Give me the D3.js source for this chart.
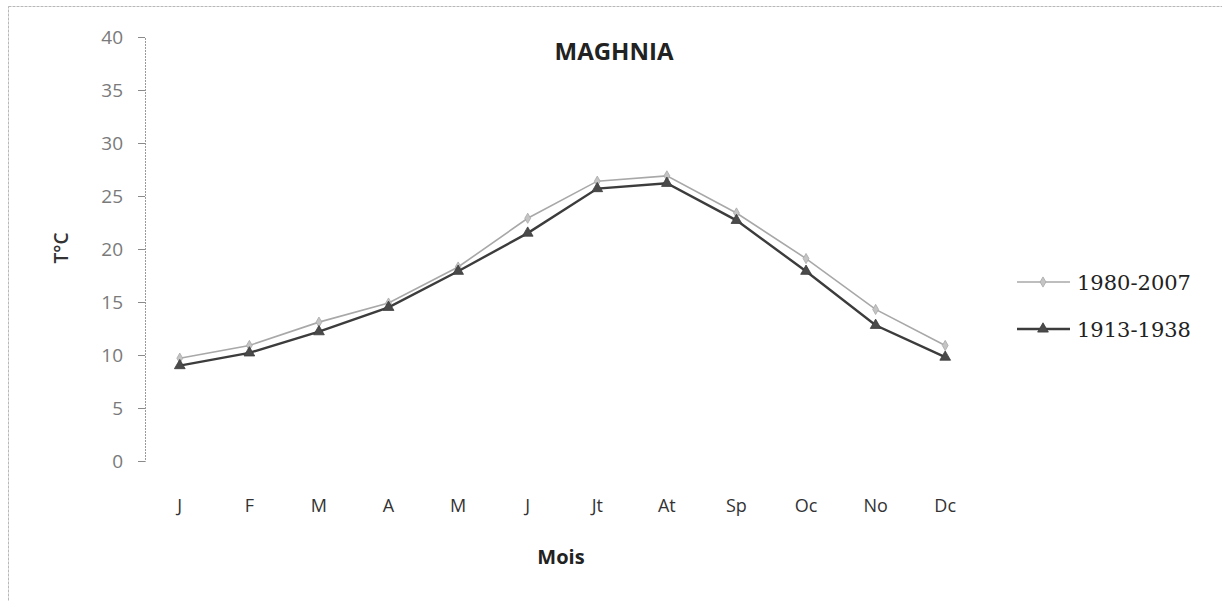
<!DOCTYPE html>
<html>
<head>
<meta charset="utf-8">
<script src="https://cdn.jsdelivr.net/npm/d3@7"></script>
<style>
  body { margin: 0; background: #fff; }
  .canvas { width: 1222px; height: 601px; }
</style>
</head>
<body>
<div class="canvas"></div>
<script>
const months = ['J', 'F', 'M', 'A', 'M', 'J', 'Jt', 'At', 'Sp', 'Oc', 'No', 'Dc'];
const recent = [9.7, 10.9, 13.1, 14.9, 18.3, 22.9, 26.4, 26.9, 23.4, 19.1, 14.3, 10.9];
const old = [9.0, 10.2, 12.2, 14.5, 17.9, 21.5, 25.7, 26.2, 22.7, 17.9, 12.8, 9.8];
const seriesNames = ['1980-2007', '1913-1938'];
const yTicks = [0, 5, 10, 15, 20, 25, 30, 35, 40];

const W = 1222;
const H = 601;
const FONT = "'Open Sans', 'Noto Sans', sans-serif";
const SERIF = "'DejaVu Serif', 'Liberation Serif', serif";

const svg = d3
  .select('.canvas')
  .append('svg')
  .attr('width', W)
  .attr('height', H);

// chart frame
svg
  .append('rect')
  .attr('x', 8.5)
  .attr('y', 6.5)
  .attr('width', W)
  .attr('height', H)
  .attr('fill', 'none')
  .attr('stroke', '#b8b8b8')
  .attr('stroke-dasharray', '3,1');

const x = d3
  .scalePoint()
  .domain(d3.range(months.length))
  .range([145, 980])
  .padding(0.5);

const y = d3.scaleLinear().domain([0, 40]).range([461, 37]);

// y axis
const yAxis = svg
  .append('g')
  .attr('transform', 'translate(145,0)')
  .call(d3.axisLeft(y).tickValues(yTicks).tickSize(7).tickPadding(15));
yAxis.select('.domain').attr('stroke', '#9a9a9a').attr('stroke-dasharray', '2,1');
yAxis.selectAll('.tick line').attr('stroke', '#8a8a8a');
yAxis
  .selectAll('.tick text')
  .attr('fill', '#7a7a7a')
  .attr('font-family', FONT)
  .attr('font-size', 19);

// x labels
svg
  .append('g')
  .selectAll('text')
  .data(months)
  .join('text')
  .attr('x', (d, i) => x(i))
  .attr('y', 512)
  .attr('text-anchor', 'middle')
  .attr('fill', '#333')
  .attr('font-family', FONT)
  .attr('font-size', 18)
  .text(d => d);

// titles
svg
  .append('text')
  .attr('x', 614)
  .attr('y', 60)
  .attr('text-anchor', 'middle')
  .attr('font-family', FONT)
  .attr('font-weight', 'bold')
  .attr('font-size', 24)
  .attr('fill', '#222')
  .text('MAGHNIA');

svg
  .append('text')
  .attr('x', 561)
  .attr('y', 564)
  .attr('text-anchor', 'middle')
  .attr('font-family', FONT)
  .attr('font-weight', 'bold')
  .attr('font-size', 20)
  .attr('fill', '#222')
  .text('Mois');

svg
  .append('text')
  .attr('transform', 'translate(68,248) rotate(-90)')
  .attr('text-anchor', 'middle')
  .attr('font-family', FONT)
  .attr('font-weight', 600)
  .attr('font-size', 19)
  .attr('fill', '#333')
  .text('T°C');

// series
const line = d3
  .line()
  .x((d, i) => x(i))
  .y(d => y(d));

const series = [
  { name: seriesNames[0], values: recent, color: '#a8a8a8', width: 1.6, mark: d3.symbolDiamond, size: 30, markFill: '#c4c4c4' },
  { name: seriesNames[1], values: old, color: '#3c3c3c', width: 2.4, mark: d3.symbolTriangle, size: 50, markFill: '#4a4a4a' },
];

series.forEach(s => {
  const g = svg.append('g');
  g.append('path')
    .attr('d', line(s.values))
    .attr('fill', 'none')
    .attr('stroke', s.color)
    .attr('stroke-width', s.width);
  g.selectAll('path.pt')
    .data(s.values)
    .join('path')
    .attr('class', 'pt')
    .attr('transform', (d, i) => `translate(${x(i)},${y(d)})`)
    .attr('d', d3.symbol().type(s.mark).size(s.size))
    .attr('fill', s.markFill)
    .attr('stroke', s.color)
    .attr('stroke-width', 0.8);
});

// legend
const legend = svg
  .append('g')
  .selectAll('g')
  .data(series)
  .join('g')
  .attr('transform', (d, i) => `translate(1017,${282 + i * 47})`);
legend
  .append('line')
  .attr('x1', 0)
  .attr('x2', 53)
  .attr('stroke', d => d.color)
  .attr('stroke-width', d => d.width);
legend
  .append('path')
  .attr('transform', 'translate(26,0)')
  .attr('d', d => d3.symbol().type(d.mark).size(d.size)())
  .attr('fill', d => d.markFill)
  .attr('stroke', d => d.color)
  .attr('stroke-width', 0.8);
legend
  .append('text')
  .attr('x', 60)
  .attr('y', 8)
  .attr('font-family', SERIF)
  .attr('font-size', 21)
  .attr('fill', '#222')
  .text(d => d.name);
</script>
</body>
</html>
